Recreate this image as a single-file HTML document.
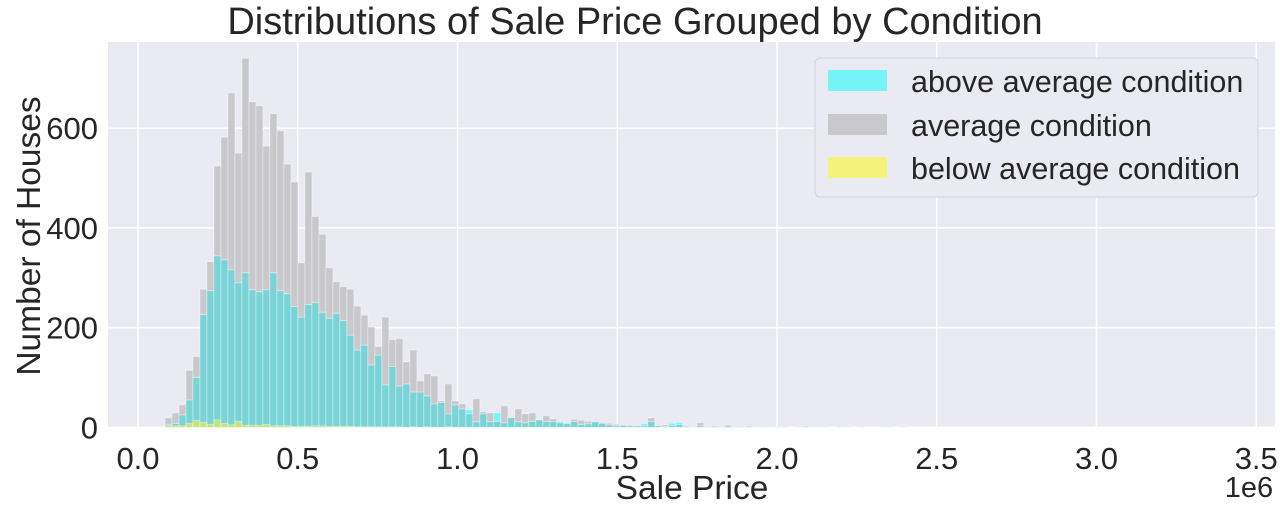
<!DOCTYPE html>
<html><head><meta charset="utf-8"><style>
body{margin:0;background:#fff;width:1288px;height:515px;overflow:hidden}
text{font-family:"Liberation Sans","DejaVu Sans",sans-serif;fill:#262626}
</style></head><body>
<svg id="chart" width="1288" height="515" xmlns="http://www.w3.org/2000/svg">
<rect x="108" y="42" width="1167" height="386" fill="#eaeaf2"/>
<g id="grid"></g><g id="bars"></g><g id="ticks"></g>
<text x="635" y="34" font-size="38" text-anchor="middle">Distributions of Sale Price Grouped by Condition</text>
<text x="692" y="499" font-size="33.5" text-anchor="middle">Sale Price</text>
<text x="1249" y="497" font-size="29" text-anchor="middle">1e6</text>
<text transform="translate(40,236) rotate(-90)" font-size="33.5" text-anchor="middle">Number of Houses</text>
<g>
<rect x="815" y="58" width="443" height="139" rx="5" fill="#eaeaf2" stroke="#d0d0d6" opacity="0.95"/>
<rect x="828" y="70" width="59" height="21" fill="#75f5f8"/>
<text x="911" y="92" font-size="30.5">above average condition</text>
<rect x="828" y="114" width="59" height="21" fill="#c9c8cd"/>
<text x="911" y="136" font-size="30.5">average condition</text>
<rect x="828" y="157" width="59" height="21" fill="#f3f27a"/>
<text x="911" y="179" font-size="30.5">below average condition</text>
</g>
</svg>
<script>
const binStart = 84500;
const binWidth = 21900;
const averageCounts = [19,29,45,114,142,277,332,524,582,671,550,740,653,645,564,629,595,528,492,330,512,423,387,320,292,282,
 277,243,225,201,162,221,176,178,131,155,93,107,103,53,87,53,47,27,57,31,29,12,43,19,37,27,29,15,23,17,9,8,16,14,12,12,8,8,6,5,5,
 4,3,19,3,5,4,6,2,2,9,2,3,1,5,2,1,3,1,2,1,1,2,0,1,3,1,0,1,0,2,1,0,1,0,0,1,0,0,1];
const aboveCounts = [5,8,25,55,100,226,274,344,336,316,290,310,276,272,276,310,274,268,242,221,246,250,231,219,229,214,
 185,155,165,125,145,85,122,83,87,71,71,63,47,50,27,45,37,35,11,27,11,29,9,19,11,9,12,16,12,11,12,9,12,6,7,11,8,5,3,4,3,
 3,7,12,3,2,8,10,2,1,3,1,2,2,3,1,1,2,0,1,0,1,1,0,0,1,0,1,0,0,1,0,0,0,0,0,0,1,0,0];
const belowCounts = [3,3,3,8,14,10,6,15,8,5,12,4,4,4,6,3,3,3,2,2,2,3,3,2,2,2,2,1,1,1,1,1,1,1,0,1,0,1,0,0,1];
const xTicks = [0,0.5,1.0,1.5,2.0,2.5,3.0,3.5];
const xTickLabels = ["0.0","0.5","1.0","1.5","2.0","2.5","3.0","3.5"];
const yTicks = [0,200,400,600];
const yTickLabels = ["0","200","400","600"];

const NS='http://www.w3.org/2000/svg';
const xScale = v => 138 + v/1e6*319.5;
const yScale = c => 427.3 - c*0.4985;
function mk(tag, attrs, parent){const e=document.createElementNS(NS,tag);for(const k in attrs)e.setAttribute(k,attrs[k]);parent.appendChild(e);return e;}
const grid=document.getElementById('grid'), bars=document.getElementById('bars'), ticks=document.getElementById('ticks');
xTicks.forEach((t,i)=>{
  const x=xScale(t*1e6);
  const l=mk('line',{x1:x,x2:x,y1:42,y2:428,stroke:'#fff','stroke-width':1.5},grid);
  
  
  const tx=mk('text',{x:x,y:469,'font-size':31,'text-anchor':'middle'},ticks);
  tx.textContent=xTickLabels[i];
  
  
});
yTicks.forEach((t,i)=>{
  const y=yScale(t);
  const l=mk('line',{x1:108,x2:1275,y1:y,y2:y,stroke:'#fff','stroke-width':1.5},grid);
  
  
  const tx=mk('text',{x:98,y:y+11,'font-size':31,'text-anchor':'end'},ticks);
  tx.textContent=yTickLabels[i];
  
  
});
const n=Math.max(averageCounts.length,aboveCounts.length);
function seg(x0,w,c0,c1,fill,name){
  if(c1<=c0)return;
  const r=mk('rect',{x:x0,y:yScale(c1),width:w,height:yScale(c0)-yScale(c1),fill:fill,stroke:'rgba(255,255,255,0.45)','stroke-width':0.8},bars);
  
  
}
for(let i=0;i<n;i++){
  const x0=xScale(binStart+i*binWidth), w=xScale(binStart+(i+1)*binWidth)-x0;
  const a=averageCounts[i]||0, b=aboveCounts[i]||0, c=belowCounts[i]||0;
  const m=Math.min(a,b);
  seg(x0,w,0,m,'#7ad3d6','bar-overlap');
  seg(x0,w,m,a,'#c9c8cd','bar-average');
  seg(x0,w,m,b,'#75f5f8','bar-above');
  seg(x0,w,0,c,'#c4e37f','bar-below');
}
</script>
</body></html>
